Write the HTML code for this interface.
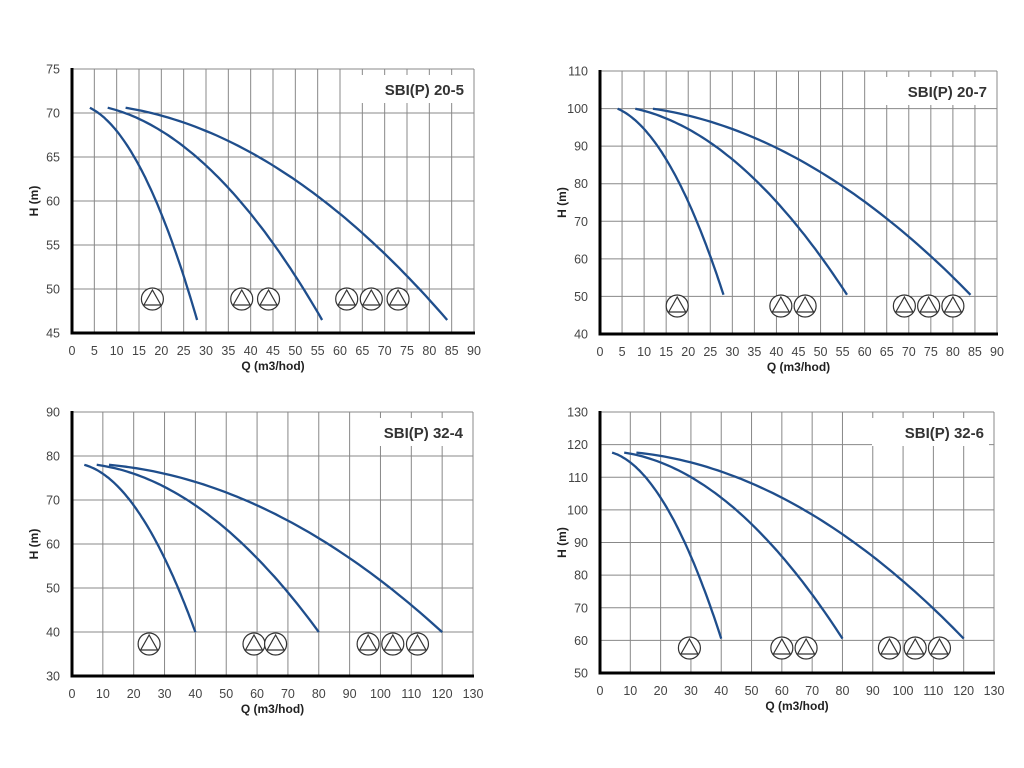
<!DOCTYPE html>
<html><head><meta charset="utf-8"><style>
html,body{margin:0;padding:0;background:#fff;width:1024px;height:768px;overflow:hidden}
svg{display:block}
text{font-family:"Liberation Sans",sans-serif}
</style></head><body>
<svg id="s" width="1024" height="768" xmlns="http://www.w3.org/2000/svg"></svg>
<script>
var S=document.getElementById('s'),h='';
var charts=[
{L:72,R:474,T:69,B:333,x1:90,xs:5,y0:45,y1:75,ys:5,a:71.1,b:0.0314,st:[4,8,12],en:[28,56,84],py:299,pq:[18,38,44,61.5,67,73],title:'SBI(P) 20-5'},
{L:600,R:997,T:71,B:334,x1:90,xs:5,y0:40,y1:110,ys:10,a:101.0,b:0.0645,st:[4,8,12],en:[28,56,84],py:306,pq:[17.5,41,46.5,69,74.5,80],title:'SBI(P) 20-7'},
{L:72,R:473,T:412,B:676,x1:130,xs:10,y0:30,y1:90,ys:10,a:78.38,b:0.024,st:[4,8,12],en:[40,80,120],py:644,pq:[25,59,66,96,104,112],title:'SBI(P) 32-4'},
{L:600,R:994,T:412,B:673,x1:130,xs:10,y0:50,y1:130,ys:10,a:118.14,b:0.036,st:[4,8,12],en:[40,80,120],py:648,pq:[29.5,60,68,95.5,104,112],title:'SBI(P) 32-6'}];
charts.forEach(function(c){
 var X=function(q){return c.L+(c.R-c.L)*q/c.x1},Y=function(v){return c.B-(c.B-c.T)*(v-c.y0)/(c.y1-c.y0)};
 for(var q=0;q<=c.x1;q+=c.xs){var x=X(q);h+='<line x1="'+x+'" y1="'+c.T+'" x2="'+x+'" y2="'+c.B+'" stroke="#888" stroke-width="1"/>';
  h+='<text x="'+x+'" y="'+(c.B+22)+'" font-size="12.5" fill="#444" text-anchor="middle">'+q+'</text>';}
 for(var v=c.y0;v<=c.y1;v+=c.ys){var y=Y(v);h+='<line x1="'+c.L+'" y1="'+y+'" x2="'+c.R+'" y2="'+y+'" stroke="#888" stroke-width="1"/>';
  h+='<text x="'+(c.L-12)+'" y="'+(y+4.5)+'" font-size="12.5" fill="#444" text-anchor="end">'+v+'</text>';}
 h+='<rect x="'+(c.R-122)+'" y="'+(c.T+6)+'" width="117" height="28" fill="#fff"/>';
 h+='<text x="'+(c.R-10)+'" y="'+(c.T+26)+'" font-size="15" font-weight="bold" fill="#333" text-anchor="end">'+c.title+'</text>';
 h+='<line x1="'+c.L+'" y1="'+(c.T-1)+'" x2="'+c.L+'" y2="'+(c.B+1.5)+'" stroke="#000" stroke-width="3"/>';
 h+='<line x1="'+(c.L-1)+'" y1="'+c.B+'" x2="'+(c.R+1)+'" y2="'+c.B+'" stroke="#000" stroke-width="3"/>';
 h+='<text x="'+((c.L+c.R)/2)+'" y="'+(c.B+37)+'" font-size="12" font-weight="bold" fill="#222" text-anchor="middle">Q (m3/hod)</text>';
 var ly=(c.T+c.B)/2;h+='<text transform="translate('+(c.L-34)+','+ly+') rotate(-90)" font-size="12" font-weight="bold" fill="#222" text-anchor="middle">H (m)</text>';
 for(var n=1;n<=3;n++){var p='';for(var i=0;i<=60;i++){var qq=c.st[n-1]+(c.en[n-1]-c.st[n-1])*i/60;var hh=c.a-c.b*Math.pow(qq/n,2);p+=(i?'L':'M')+X(qq).toFixed(1)+','+Y(hh).toFixed(1);}
  h+='<path d="'+p+'" fill="none" stroke="#1f4e8c" stroke-width="2.3"/>';}
 c.pq.forEach(function(q){var x=X(q),y=c.py;h+='<circle cx="'+x+'" cy="'+y+'" r="11" fill="#fff" stroke="#333" stroke-width="1.2"/>';
  h+='<polygon points="'+x+','+(y-9)+' '+(x-8.5)+','+(y+6)+' '+(x+8.5)+','+(y+6)+'" fill="none" stroke="#333" stroke-width="1.2"/>';});
});
S.innerHTML=h;
</script>
</body></html>
